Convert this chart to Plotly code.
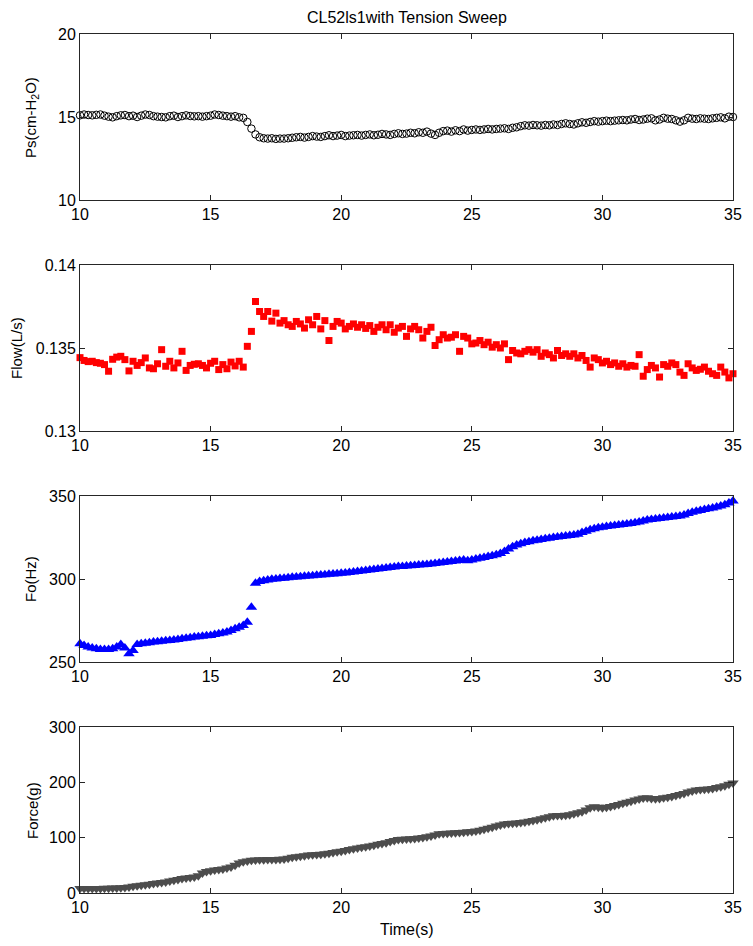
import numpy as np
import plotly.graph_objects as go
from plotly.subplots import make_subplots

# time axis: evenly sampled from 10 s to 35 s
time_start, time_end, n_samples = 10.0, 35.0, 161
time_s = np.linspace(time_start, time_end, n_samples)

ps_cmH2O = [
    15.10, 15.15, 15.12, 15.10, 15.13, 15.15, 15.08, 15.02, 14.98, 15.05,
    15.10, 15.12, 15.05, 15.08, 15.00, 15.08, 15.15, 15.12, 15.05, 15.02,
    15.00, 14.98, 15.05, 15.08, 15.00, 15.05, 15.10, 15.06, 15.04, 15.05,
    15.02, 15.05, 15.08, 15.15, 15.12, 15.08, 15.05, 15.02, 15.05, 14.98,
    14.95, 14.70, 14.30, 13.95, 13.78, 13.72, 13.70, 13.72, 13.68, 13.70,
    13.70, 13.72, 13.75, 13.78, 13.80, 13.76, 13.80, 13.85, 13.82, 13.80,
    13.85, 13.90, 13.85, 13.88, 13.92, 13.85, 13.88, 13.90, 13.92, 13.88,
    13.92, 13.95, 13.90, 13.93, 13.98, 13.95, 13.92, 13.98, 14.02, 13.98,
    14.00, 14.05, 14.02, 14.08, 14.05, 14.12, 14.00, 13.92, 14.05, 14.15,
    14.18, 14.12, 14.20, 14.15, 14.25, 14.18, 14.22, 14.25, 14.22, 14.25,
    14.28, 14.25, 14.28, 14.30, 14.32, 14.28, 14.35, 14.38, 14.45, 14.50,
    14.48, 14.52, 14.50, 14.48, 14.52, 14.50, 14.55, 14.52, 14.58, 14.62,
    14.58, 14.55, 14.62, 14.68, 14.65, 14.70, 14.75, 14.72, 14.75, 14.78,
    14.75, 14.78, 14.80, 14.82, 14.80, 14.85, 14.88, 14.82, 14.85, 14.90,
    14.92, 14.80, 14.85, 14.95, 14.90, 14.88, 14.80, 14.72, 14.80, 14.95,
    14.90, 14.88, 14.92, 14.90, 14.88, 14.92, 14.95, 14.98, 14.92, 15.02, 15.00,
]

flow_Ls = [
    .13442, .13425, .13418, .13420, .13412, .13408, .13400, .13360, .13432, .13445,
    .13450, .13430, .13362, .13420, .13395, .13412, .13440, .13380, .13375, .13405,
    .13490, .13390, .13420, .13380, .13410, .13480, .13365, .13395, .13402, .13405,
    .13395, .13380, .13408, .13420, .13370, .13400, .13375, .13415, .13392, .13420,
    .13385, .13510, .13600, .13780, .13720, .13690, .13720, .13662, .13710, .13650,
    .13665, .13640, .13630, .13660, .13645, .13620, .13670, .13640, .13690, .13615,
    .13665, .13545, .13630, .13660, .13650, .13615, .13630, .13645, .13625, .13640,
    .13618, .13635, .13600, .13625, .13640, .13610, .13640, .13595, .13620, .13630,
    .13570, .13615, .13630, .13610, .13560, .13600, .13625, .13515, .13550, .13580,
    .13560, .13565, .13580, .13480, .13570, .13560, .13525, .13530, .13545, .13520,
    .13535, .13505, .13520, .13500, .13525, .13430, .13485, .13470, .13465, .13480,
    .13490, .13475, .13490, .13450, .13470, .13460, .13440, .13485, .13455, .13465,
    .13450, .13465, .13440, .13455, .13425, .13385, .13440, .13430, .13410, .13420,
    .13400, .13410, .13390, .13405, .13385, .13395, .13390, .13460, .13330, .13370,
    .13395, .13380, .13325, .13400, .13390, .13410, .13400, .13355, .13335, .13405,
    .13380, .13365, .13372, .13385, .13360, .13345, .13335, .13385, .13355, .13320, .13345,
]

fo_Hz = [
    261.0, 260.0, 259.0, 258.5, 258.0, 257.5, 257.5, 257.5, 258.0, 259.0,
    260.5, 258.5, 255.0, 257.0, 260.5, 261.0, 261.3, 261.6, 262.0, 262.2,
    262.5, 262.8, 263.0, 263.3, 263.6, 264.0, 264.3, 264.6, 265.0, 265.2,
    265.5, 265.8, 266.0, 266.5, 267.0, 267.5, 268.0, 269.0, 270.0, 271.0,
    272.0, 274.0, 283.0, 297.5, 298.5, 299.0, 299.4, 299.8, 300.0, 300.3,
    300.5, 300.7, 301.0, 301.2, 301.4, 301.6, 301.8, 302.0, 302.2, 302.4,
    302.6, 302.8, 303.0, 303.2, 303.4, 303.6, 303.9, 304.2, 304.5, 304.8,
    305.1, 305.4, 305.7, 306.0, 306.3, 306.6, 306.9, 307.2, 307.5, 307.6,
    307.8, 308.0, 308.2, 308.4, 308.6, 308.8, 309.0, 309.3, 309.6, 310.0,
    310.3, 310.6, 310.9, 311.2, 311.5, 311.0, 311.5, 312.0, 312.5, 313.0,
    313.5, 314.0, 314.6, 315.4, 316.5, 318.0, 319.5, 320.5, 321.3, 322.0,
    322.5, 323.0, 323.4, 323.8, 324.2, 324.6, 325.0, 325.3, 325.6, 325.9,
    326.2, 326.5, 327.0, 328.0, 328.8, 329.6, 330.3, 330.8, 331.2, 331.6,
    331.9, 332.2, 332.5, 332.8, 333.1, 333.5, 333.9, 334.4, 334.9, 335.5,
    335.8, 336.1, 336.4, 336.7, 337.0, 337.3, 337.6, 337.9, 338.5, 339.5,
    340.2, 340.8, 341.3, 341.8, 342.3, 342.8, 343.3, 344.0, 344.8, 345.8, 347.0,
]

force_g = [
    8, 8, 8, 8, 8, 8, 8.5, 8.5, 9, 9,
    9.5, 10, 11, 12, 13, 14, 15, 16, 17, 18,
    19, 20, 21.5, 23, 24.5, 26, 27, 28, 29, 31,
    36, 39, 40, 41.5, 42.5, 43.5, 45, 47, 50, 54,
    56.5, 58, 59, 59.5, 60, 60.2, 60.4, 60.5, 60.6, 60.8,
    61.5, 63, 64.5, 65.5, 66.5, 67.5, 68.5, 69, 69.5, 70,
    71, 72, 73, 74.5, 75.5, 77, 78.5, 80, 81.5, 82.5,
    83.5, 85, 86.5, 88, 89.5, 91, 93, 95, 96.5, 97,
    97.5, 98, 98.5, 99.5, 100.5, 101.5, 103, 105, 107, 107.5,
    108, 108.5, 109, 109.5, 110, 110.5, 111, 112, 113.5, 115,
    117, 119, 121, 123, 124.5, 125.5, 126, 126.5, 127.5, 128.5,
    129.5, 131, 132.5, 134, 136, 138, 139.5, 140, 140, 140.5,
    141.5, 143, 145, 147, 150, 154, 156, 155, 154, 155,
    156.5, 158, 160, 162, 164, 166, 168, 170, 171.5, 172,
    171, 170.5, 171, 172, 173, 174.5, 176, 178, 180, 182.5,
    184.5, 186, 187, 187.5, 188, 189, 190.5, 192, 194, 196.5, 199,
]

x_ticks = [10, 15, 20, 25, 30, 35]
ps_ticks = [10, 15, 20]
flow_ticks = [0.13, 0.135, 0.14]
flow_tick_text = ["0.13", "0.135", "0.14"]
fo_ticks = [250, 300, 350]
force_ticks = [0, 100, 200, 300]
y_titles = ["Ps(cm-H<sub>2</sub>O)", "Flow(L/s)", "Fo(Hz)", "Force(g)"]

# page is rendered with an 8px body margin -> work in page pixels, shift by 8
OFF = 8
PAGE_W, PAGE_H = 753, 946
W, H = PAGE_W - OFF, PAGE_H - OFF
box_left, box_right = 80, 733              # page px
boxes = [(34, 200), (265, 431), (496, 662), (727, 893)]  # page px (top, bottom)
ml = box_left - OFF
mr = W - (box_right - OFF)
mt = boxes[0][0] - OFF
mb = H - (boxes[-1][1] - OFF)
plot_w = W - ml - mr
plot_h = H - mt - mb

def py(page_y):
    return 1 - ((page_y - OFF) - mt) / plot_h

def px(page_x):
    return ((page_x - OFF) - ml) / plot_w

domains = [[max(0.0, py(b)), min(1.0, py(t))] for t, b in boxes]

FONT = "Liberation Sans, Arial, Helvetica, sans-serif"
AX = "#262626"
FS_TICK = 16
FS_LABEL = 15
FS_TITLE = 16

fig = make_subplots(rows=4, cols=1, shared_xaxes=False)

fig.add_trace(go.Scatter(x=time_s, y=ps_cmH2O, mode="markers", cliponaxis=False,
                         marker=dict(symbol="circle-open", size=7.5, color="black",
                                     line=dict(width=1, color="black"))), row=1, col=1)
fig.add_trace(go.Scatter(x=time_s, y=flow_Ls, mode="markers", cliponaxis=False,
                         marker=dict(symbol="square", size=7, color="#ff0000",
                                     line=dict(width=0))), row=2, col=1)
fig.add_trace(go.Scatter(x=time_s, y=fo_Hz, mode="markers", cliponaxis=False,
                         marker=dict(symbol="triangle-up", size=10, color="#0000ff",
                                     line=dict(width=0))), row=3, col=1)
fig.add_trace(go.Scatter(x=time_s, y=force_g, mode="markers", cliponaxis=False,
                         marker=dict(symbol="triangle-down", size=10, color="#4d4d4d",
                                     line=dict(width=0))), row=4, col=1)

ycfg = [
    dict(range=[10, 20], tickvals=ps_ticks),
    dict(range=[0.13, 0.14], tickvals=flow_ticks, ticktext=flow_tick_text),
    dict(range=[250, 350], tickvals=fo_ticks),
    dict(range=[0, 300], tickvals=force_ticks),
]

common = dict(showline=True, linecolor=AX, linewidth=1, mirror="allticks",
              ticks="inside", ticklen=5, tickcolor=AX, tickwidth=1,
              showgrid=False, zeroline=False,
              tickfont=dict(family=FONT, size=FS_TICK, color="black"))

for i in range(4):
    xa = "xaxis" if i == 0 else f"xaxis{i+1}"
    ya = "yaxis" if i == 0 else f"yaxis{i+1}"
    fig.layout[xa].update(range=[10, 35], tickvals=x_ticks, domain=[0, 1], **common)
    c = ycfg[i]
    fig.layout[ya].update(range=c["range"], tickvals=c["tickvals"],
                          ticktext=c.get("ticktext"), domain=domains[i], **common)

# y-axis titles placed as rotated annotations (page px centres)
title_x = [32, 16, 30, 32]
annotations = []
for i in range(4):
    t, b = boxes[i]
    annotations.append(dict(text=y_titles[i], textangle=-90, showarrow=False,
                            xref="paper", yref="paper", x=px(title_x[i]), y=py((t + b) / 2),
                            xanchor="center", yanchor="middle",
                            font=dict(family=FONT, size=FS_LABEL, color="black")))
annotations.append(dict(text="Time(s)", showarrow=False, xref="paper", yref="paper",
                        x=px((box_left + box_right) / 2), y=py(930),
                        xanchor="center", yanchor="middle",
                        font=dict(family=FONT, size=FS_TITLE, color="black")))
annotations.append(dict(text="CL52ls1with Tension Sweep", showarrow=False,
                        xref="paper", yref="paper",
                        x=px((box_left + box_right) / 2), y=py(18),
                        xanchor="center", yanchor="middle",
                        font=dict(family=FONT, size=FS_TITLE, color="black")))

fig.update_layout(
    width=W, height=H,
    margin=dict(l=ml, r=mr, t=mt, b=mb, autoexpand=False),
    paper_bgcolor="white", plot_bgcolor="white",
    showlegend=False,
    annotations=annotations,
    font=dict(family=FONT, size=FS_TICK, color="black"),
)

fig.write_html("out.html")
